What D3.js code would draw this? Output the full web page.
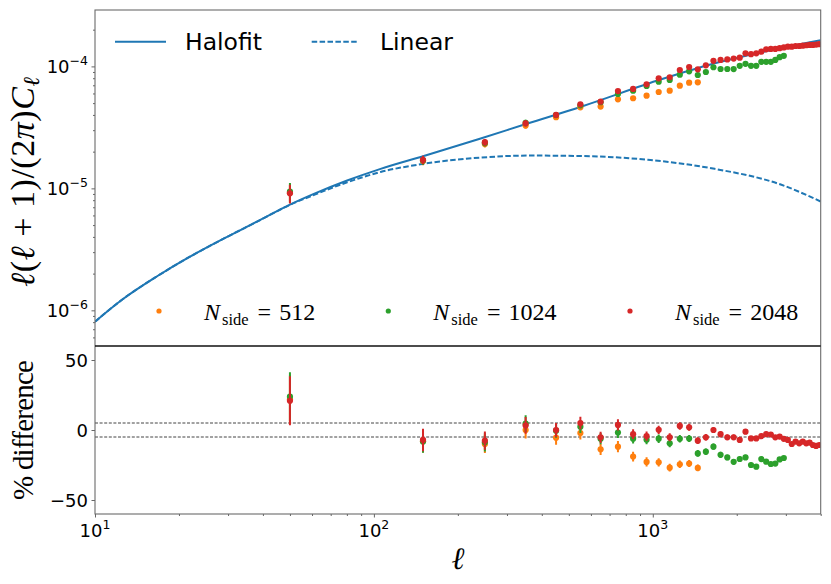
<!DOCTYPE html>
<html>
<head>
<meta charset="utf-8">
<script src="https://cdn.jsdelivr.net/npm/d3@7"></script>
<style>
  html, body { margin: 0; padding: 0; background: #fff; }
  svg { display: block; }
</style>
</head>
<body>
<svg id="chart" width="831" height="584"></svg>
<script>
// bandpower centres (l)
const ells = [50, 150, 250, 350, 450, 550, 650, 750, 850, 950,
  1050, 1150, 1250, 1350, 1450, 1550, 1650, 1750, 1850, 1950,
  2050, 2150, 2250, 2350, 2450, 2550, 2650, 2750, 2850, 2950,
  3050, 3150, 3250, 3350, 3450, 3550, 3650, 3750, 3850, 3950];

// theory curves
const halofitEll = [10, 12.6, 16.7, 21.9, 28.9, 38.1, 50.2, 60.9, 80.2, 105.7, 151, 241.5, 355.6, 553, 1073, 1621, 2452, 4000];
const halofitCl = [8.07e-7, 1.238e-6, 1.902e-6, 2.752e-6, 3.867e-6, 5.329e-6, 7.386e-6, 9.008e-6, 1.160e-5, 1.446e-5, 1.842e-5, 2.563e-5, 3.402e-5, 4.672e-5, 7.834e-5, 1.041e-4, 1.305e-4, 1.640e-4];
const linearEll = [10, 12.6, 16.7, 21.9, 28.9, 38.1, 50.2, 60.9, 80.2, 105.7, 151, 241.5, 355.6, 553, 960, 1666, 2893, 4000];
const linearCl = [8.07e-7, 1.238e-6, 1.902e-6, 2.752e-6, 3.867e-6, 5.329e-6, 7.359e-6, 8.823e-6, 1.121e-5, 1.362e-5, 1.590e-5, 1.788e-5, 1.857e-5, 1.842e-5, 1.715e-5, 1.446e-5, 1.070e-5, 7.80e-6];

// measured spectra, l(l+1)/2pi C_l
const cl512 = [9.2e-6, 1.68e-5, 2.31e-5, 3.28e-5, 3.83e-5, 4.62e-5, 4.68e-5, 5.37e-5, 5.48e-5, 5.75e-5,
  6.17e-5, 6.32e-5, 6.95e-5, 7.35e-5, 7.41e-5];
const cl1024 = [9.4e-6, 1.69e-5, 2.36e-5, 3.44e-5, 3.99e-5, 4.80e-5, 5.08e-5, 5.94e-5, 6.32e-5, 6.91e-5,
  7.50e-5, 7.74e-5, 8.55e-5, 9.12e-5, 8.50e-5, 9.0e-5, 9.84e-5, 9.52e-5, 9.52e-5, 9.50e-5,
  1.01e-4, 1.05e-4, 1.01e-4, 1.01e-4, 1.09e-4, 1.09e-4, 1.09e-4, 1.13e-4, 1.19e-4, 1.22e-4];
const cl2048 = [9.12e-6, 1.71e-5, 2.39e-5, 3.42e-5, 4.0e-5, 4.89e-5, 5.14e-5, 6.28e-5, 6.53e-5, 7.13e-5,
  7.99e-5, 8.15e-5, 9.34e-5, 9.89e-5, 9.47e-5, 1.02e-4, 1.11e-4, 1.13e-4, 1.14e-4, 1.16e-4,
  1.18e-4, 1.28e-4, 1.26e-4, 1.28e-4, 1.32e-4, 1.38e-4, 1.39e-4, 1.39e-4, 1.41e-4, 1.43e-4,
  1.45e-4, 1.45e-4, 1.47e-4, 1.47e-4, 1.48e-4, 1.49e-4, 1.50e-4, 1.50e-4, 1.51e-4, 1.52e-4];

// % difference to halofit
const pct512 = [22, -8, -10, 0, -5.5, -2.2, -13.8, -11.9, -19, -22.8, -23.1, -26.9, -24.5, -24, -27.1];
const pct1024 = [23.8, -8.3, -8.8, 4.5, -0.5, 2.4, -6.2, -1.8, -6.2, -6.9,
  -6.2, -9.5, -6.3, -6.1, -16.7, -15.5, -11.9, -17.7, -19.6, -22.7,
  -20.7, -19.6, -25, -26.2, -20.8, -22.6, -24.3, -24, -21, -20];
const pct2048 = [20.9, -7.1, -7.6, 3.3, 0, 5, -5.2, 3.6, -3, -4.3,
  0.1, -5.2, 2.9, 1.9, -7.6, -5.2, 0, -3, -5.2, -5.2,
  -7.1, -1.2, -6, -6, -4.4, -3, -3.2, -5.2, -4.7, -6.3,
  -7.1, -10, -8.3, -9.5, -8.3, -9.5, -9, -10.7, -11.4, -10.7];

// 1-sigma error, percent
const errPct = [17.5, 8, 6.5, 6, 5, 4.5, 4, 4, 3.5, 3.3,
  3, 2.8, 2.7, 2.5, 2.4, 2.3, 2.2, 2.1, 2, 2,
  1.9, 1.9, 1.8, 1.8, 1.7, 1.7, 1.6, 1.6, 1.6, 1.5,
  1.5, 1.5, 1.4, 1.4, 1.4, 1.3, 1.3, 1.3, 1.3, 1.2];

const nsideLabels = ["512", "1024", "2048"];
const tolerance = [-5, 5];

const colors = ["#ff7f0e", "#2ca02c", "#d62728"];
const blue = "#1f77b4";

const series = [cl512, cl1024, cl2048].map((cl, i) => ({
  label: nsideLabels[i],
  color: colors[i],
  pts: cl.map((v, j) => ({
    ell: ells[j], cl: v,
    pct: [pct512, pct1024, pct2048][i][j],
    err: errPct[j]
  }))
}));

const svg = d3.select("#chart");
const left = 95, right = 820.7, topY = 10, mid = 346, bottom = 514;

const x = d3.scaleLog().domain([10, 4000]).range([left, right]);
const yTop = d3.scaleLog().domain([5.1e-7, 2.9e-4]).range([mid, topY]);
const yBot = d3.scaleLinear().domain([-60, 60]).range([bottom, mid]);

const defs = svg.append("defs");
defs.append("clipPath").attr("id", "clipTop").append("rect")
  .attr("x", left).attr("y", topY).attr("width", right - left).attr("height", mid - topY);
defs.append("clipPath").attr("id", "clipBot").append("rect")
  .attr("x", left).attr("y", mid).attr("width", right - left).attr("height", bottom - mid);

/* ---- top panel ---- */
const gTop = svg.append("g").attr("clip-path", "url(#clipTop)");

const lineTop = d3.line()
  .x(d => x(d[0]))
  .y(d => yTop(d[1]))
  .curve(d3.curveMonotoneX);

gTop.append("path")
  .datum(d3.zip(halofitEll, halofitCl))
  .attr("d", lineTop)
  .attr("fill", "none").attr("stroke", blue).attr("stroke-width", 2);

gTop.append("path")
  .datum(d3.zip(linearEll, linearCl))
  .attr("d", lineTop)
  .attr("fill", "none").attr("stroke", blue).attr("stroke-width", 2)
  .attr("stroke-dasharray", "5.5,2.4");

series.forEach(s => {
  const g = gTop.append("g");
  g.selectAll("line").data(s.pts).enter().append("line")
    .attr("x1", d => x(d.ell)).attr("x2", d => x(d.ell))
    .attr("y1", d => yTop(d.cl * (1 - d.err / 100)))
    .attr("y2", d => yTop(d.cl * (1 + d.err / 100)))
    .attr("stroke", s.color).attr("stroke-width", 2);
  g.selectAll("circle").data(s.pts).enter().append("circle")
    .attr("cx", d => x(d.ell)).attr("cy", d => yTop(d.cl))
    .attr("r", 3.1).attr("fill", s.color);
});

/* ---- bottom panel ---- */
const gBot = svg.append("g").attr("clip-path", "url(#clipBot)");

gBot.selectAll("line.tol").data(tolerance).enter().append("line")
  .attr("class", "tol")
  .attr("x1", left).attr("x2", right)
  .attr("y1", d => yBot(d)).attr("y2", d => yBot(d))
  .attr("stroke", "#444").attr("stroke-width", 1)
  .attr("stroke-dasharray", "3,1.6");

series.forEach(s => {
  const g = gBot.append("g");
  g.selectAll("line").data(s.pts).enter().append("line")
    .attr("x1", d => x(d.ell)).attr("x2", d => x(d.ell))
    .attr("y1", d => yBot(d.pct - d.err))
    .attr("y2", d => yBot(d.pct + d.err))
    .attr("stroke", s.color).attr("stroke-width", 2);
  g.selectAll("circle").data(s.pts).enter().append("circle")
    .attr("cx", d => x(d.ell)).attr("cy", d => yBot(d.pct))
    .attr("r", 3.1).attr("fill", s.color);
});

/* ---- axes ---- */
const isPow10 = v => Math.abs(Math.log10(v) - Math.round(Math.log10(v))) < 1e-9;
const tickFont = "'DejaVu Sans', sans-serif";

function styleAxis(g) {
  g.select(".domain").remove();
  g.selectAll(".tick line").attr("stroke", "#555").attr("stroke-width", 0.9);
}

const yMajor = [1e-6, 1e-5, 1e-4];
svg.append("g").attr("transform", `translate(${left},0)`)
  .call(d3.axisLeft(yTop).tickValues(yMajor).tickSize(3.5).tickFormat(""))
  .call(styleAxis);
svg.append("g").attr("transform", `translate(${left},0)`)
  .call(d3.axisLeft(yTop).tickValues(yTop.ticks().filter(v => !isPow10(v))).tickSize(2).tickFormat(""))
  .call(styleAxis);

const yLab = svg.append("g").attr("font-family", tickFont).attr("font-size", 18)
  .attr("text-anchor", "end");
yMajor.forEach(v => {
  const t = yLab.append("text").attr("x", 88).attr("y", yTop(v) + 6.5);
  t.append("tspan").text("10");
  t.append("tspan").attr("dy", -8).attr("font-size", 12.5).text("\u2212" + Math.round(-Math.log10(v)));
});

const pctTicks = [-50, 0, 50];
svg.append("g").attr("transform", `translate(${left},0)`)
  .call(d3.axisLeft(yBot).tickValues(pctTicks).tickSize(3.5).tickFormat(""))
  .call(styleAxis);
pctTicks.forEach(v => {
  yLab.append("text").attr("x", 88).attr("y", yBot(v) + 6.5)
    .text(v < 0 ? "\u2212" + (-v) : String(v));
});

const xMajor = [10, 100, 1000];
svg.append("g").attr("transform", `translate(0,${bottom})`)
  .call(d3.axisBottom(x).tickValues(xMajor).tickSize(3.5).tickFormat(""))
  .call(styleAxis);
svg.append("g").attr("transform", `translate(0,${bottom})`)
  .call(d3.axisBottom(x).tickValues(x.ticks().filter(v => !isPow10(v))).tickSize(2).tickFormat(""))
  .call(styleAxis);

const xLab = svg.append("g").attr("font-family", tickFont).attr("font-size", 18)
  .attr("text-anchor", "middle");
xMajor.forEach(v => {
  const t = xLab.append("text").attr("x", x(v)).attr("y", 537);
  t.append("tspan").text("10");
  t.append("tspan").attr("dy", -8).attr("font-size", 12.5).text(Math.round(Math.log10(v)));
});

/* ---- frame ---- */
const frame = svg.append("g").attr("fill", "none");
frame.append("rect").attr("x", left).attr("y", topY)
  .attr("width", right - left).attr("height", bottom - topY)
  .attr("stroke", "#6b6b6b").attr("stroke-width", 1.1);
frame.append("line").attr("x1", left).attr("x2", right)
  .attr("y1", mid).attr("y2", mid)
  .attr("stroke", "#111").attr("stroke-width", 1.3);

/* ---- legends ---- */
const leg = svg.append("g").attr("font-family", tickFont).attr("font-size", 23.5);
leg.append("line").attr("x1", 115).attr("x2", 166).attr("y1", 41.7).attr("y2", 41.7)
  .attr("stroke", blue).attr("stroke-width", 2);
leg.append("text").attr("x", 185).attr("y", 50).text("Halofit");
leg.append("line").attr("x1", 311.7).attr("x2", 358).attr("y1", 41.7).attr("y2", 41.7)
  .attr("stroke", blue).attr("stroke-width", 2).attr("stroke-dasharray", "5.5,2.4");
leg.append("text").attr("x", 380).attr("y", 50).text("Linear");

const legX = [159, 388.3, 630];
const leg2 = svg.append("g").attr("font-family", "'Liberation Serif', serif").attr("font-size", 24);
series.forEach((s, i) => {
  leg2.append("circle").attr("cx", legX[i]).attr("cy", 311).attr("r", 2.6).attr("fill", s.color);
  const t = leg2.append("text").attr("x", legX[i] + 45).attr("y", 320);
  t.append("tspan").attr("font-style", "italic").text("N");
  t.append("tspan").attr("font-size", 16.5).attr("dy", 4.5).attr("dx", 2).text("side");
  t.append("tspan").attr("dy", -4.5).attr("dx", 9).text("=");
  t.append("tspan").attr("dx", 8).text(s.label);
});

/* ---- axis titles ---- */
const serif = "'Liberation Serif', serif";
const yt = svg.append("text")
  .attr("transform", "translate(34,182) rotate(-90)")
  .attr("text-anchor", "middle")
  .attr("font-family", serif).attr("font-size", 34)
  .attr("textLength", 210).attr("lengthAdjust", "spacing");
yt.append("tspan").attr("font-style", "italic").text("\u2113");
yt.append("tspan").text("(");
yt.append("tspan").attr("font-style", "italic").text("\u2113");
yt.append("tspan").text(" + 1)/(2");
yt.append("tspan").attr("font-style", "italic").text("\u03c0");
yt.append("tspan").text(")");
yt.append("tspan").attr("font-style", "italic").text("C");
yt.append("tspan").attr("font-style", "italic").attr("font-size", 23).attr("dy", 5).text("\u2113");

svg.append("text")
  .attr("transform", "translate(33,430) rotate(-90)")
  .attr("text-anchor", "middle")
  .attr("font-family", serif).attr("font-size", 29)
  .attr("textLength", 140).attr("lengthAdjust", "spacing")
  .text("% difference");

svg.append("text")
  .attr("x", (left + right) / 2).attr("y", 569)
  .attr("text-anchor", "middle")
  .attr("font-family", serif).attr("font-style", "italic").attr("font-size", 31)
  .text("\u2113");
</script>
</body>
</html>
